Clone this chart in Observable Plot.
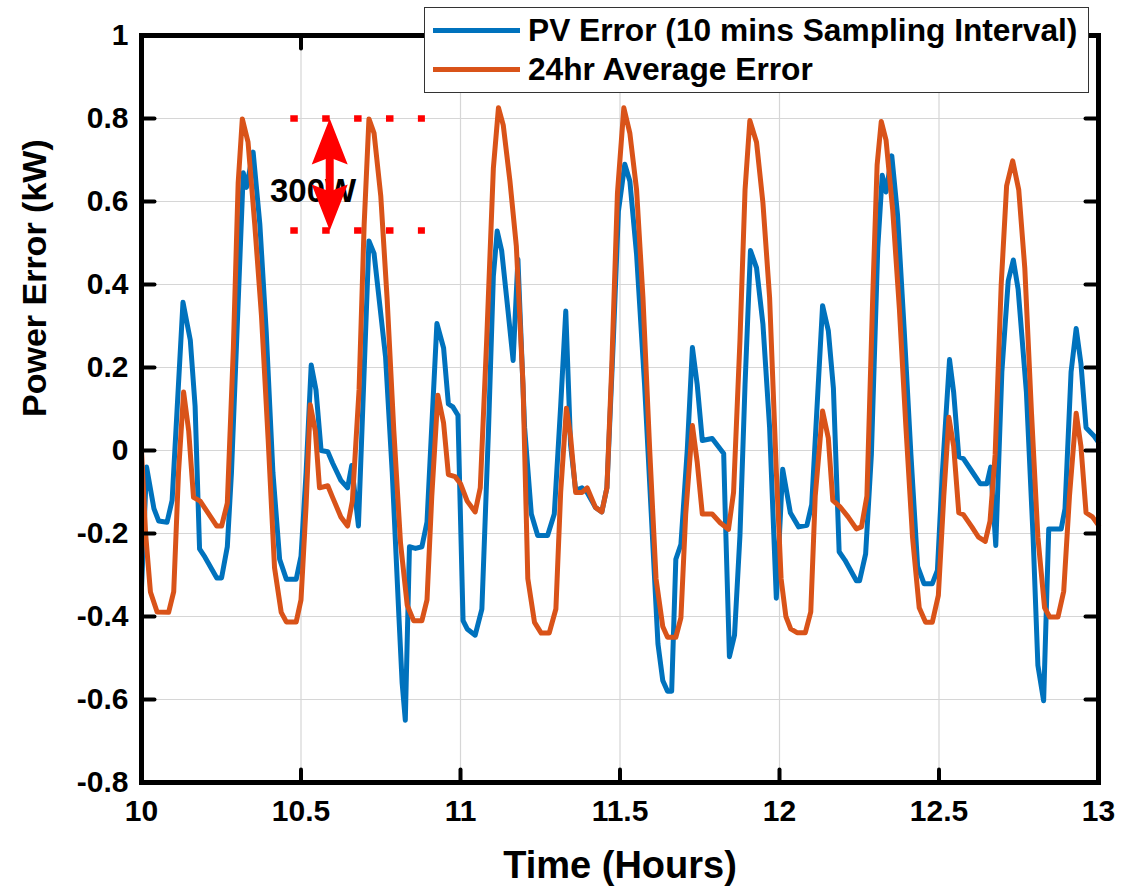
<!DOCTYPE html>
<html><head><meta charset="utf-8">
<script src="https://cdn.jsdelivr.net/npm/d3@7"></script>
<script src="https://cdn.jsdelivr.net/npm/@observablehq/plot@0.6"></script>
<style>
html,body{margin:0;padding:0;background:#fff;overflow:hidden;}
#wrap{position:relative;width:1142px;height:894px;}
#legend{position:absolute;left:424px;top:7px;width:665px;height:86px;box-sizing:border-box;border:1.5px solid #333;background:#fff;font-family:"Liberation Sans",Arial,sans-serif;font-weight:bold;}
.row{position:absolute;left:0;display:flex;align-items:center;height:40px;}
.sw{margin-left:8px;width:87px;height:5px;}
.lbl{margin-left:8px;font-size:31.7px;line-height:1;color:#000;white-space:nowrap;}
</style></head><body><div id="wrap"></div>
<script>
const pvTime = [10.000,10.016,10.039,10.054,10.080,10.096,10.130,10.153,10.168,10.182,10.199,10.236,10.251,10.269,10.282,10.319,10.329,10.350,10.371,10.391,10.412,10.433,10.454,10.485,10.500,10.516,10.532,10.547,10.563,10.584,10.599,10.625,10.646,10.659,10.680,10.713,10.729,10.765,10.786,10.807,10.817,10.827,10.840,10.859,10.879,10.895,10.926,10.947,10.962,10.976,10.992,11.008,11.021,11.046,11.067,11.088,11.103,11.115,11.129,11.149,11.165,11.180,11.201,11.222,11.242,11.273,11.294,11.314,11.330,11.345,11.361,11.381,11.397,11.423,11.443,11.459,11.479,11.495,11.515,11.531,11.552,11.577,11.598,11.619,11.634,11.649,11.662,11.675,11.691,11.711,11.727,11.742,11.758,11.789,11.825,11.830,11.843,11.859,11.876,11.892,11.909,11.928,11.948,11.969,11.990,12.010,12.034,12.060,12.086,12.101,12.135,12.153,12.169,12.187,12.205,12.241,12.251,12.270,12.288,12.308,12.322,12.334,12.352,12.370,12.391,12.412,12.433,12.453,12.479,12.495,12.510,12.533,12.546,12.562,12.577,12.603,12.629,12.650,12.662,12.678,12.697,12.717,12.733,12.748,12.774,12.795,12.810,12.828,12.844,12.862,12.883,12.895,12.914,12.930,12.945,12.961,12.986,13.000];
const pvError = [-0.33,-0.04,-0.14,-0.17,-0.173,-0.12,0.357,0.266,0.107,-0.237,-0.257,-0.307,-0.307,-0.232,-0.053,0.669,0.634,0.719,0.545,0.286,-0.053,-0.262,-0.31,-0.31,-0.255,-0.053,0.206,0.146,0.0,-0.003,-0.03,-0.072,-0.09,-0.036,-0.182,0.505,0.475,0.226,-0.053,-0.401,-0.56,-0.65,-0.232,-0.236,-0.232,-0.172,0.306,0.247,0.112,0.105,0.085,-0.41,-0.43,-0.445,-0.382,0.055,0.42,0.529,0.482,0.336,0.217,0.461,0.055,-0.153,-0.205,-0.205,-0.153,0.107,0.336,0.014,-0.096,-0.09,-0.101,-0.137,-0.148,-0.09,0.264,0.576,0.69,0.649,0.472,0.159,-0.153,-0.466,-0.554,-0.58,-0.58,-0.262,-0.226,0.003,0.248,0.159,0.024,0.029,-0.007,-0.153,-0.497,-0.445,-0.205,0.159,0.482,0.44,0.305,0.055,-0.356,-0.045,-0.15,-0.184,-0.18,-0.13,0.349,0.289,0.15,-0.244,-0.264,-0.314,-0.314,-0.249,-0.01,0.488,0.663,0.623,0.71,0.568,0.289,-0.01,-0.279,-0.321,-0.321,-0.289,-0.06,0.219,0.14,-0.015,-0.02,-0.05,-0.08,-0.08,-0.04,-0.229,0.189,0.409,0.459,0.389,0.14,-0.209,-0.518,-0.603,-0.189,-0.189,-0.189,-0.14,0.189,0.294,0.209,0.055,0.035,0.02];
const avgTime = [10.000,10.013,10.028,10.049,10.085,10.101,10.116,10.132,10.148,10.163,10.184,10.236,10.251,10.269,10.288,10.303,10.316,10.334,10.355,10.376,10.397,10.417,10.438,10.454,10.485,10.500,10.516,10.529,10.545,10.558,10.584,10.599,10.625,10.646,10.661,10.682,10.698,10.713,10.729,10.750,10.770,10.791,10.812,10.833,10.853,10.879,10.895,10.910,10.929,10.947,10.962,10.983,11.000,11.021,11.046,11.062,11.082,11.103,11.119,11.134,11.155,11.175,11.196,11.211,11.232,11.253,11.278,11.299,11.314,11.332,11.345,11.361,11.381,11.397,11.423,11.443,11.459,11.474,11.492,11.512,11.531,11.552,11.572,11.593,11.613,11.634,11.649,11.675,11.691,11.706,11.727,11.742,11.758,11.789,11.814,11.840,11.856,11.876,11.892,11.907,11.928,11.948,11.969,11.990,12.005,12.020,12.035,12.055,12.081,12.098,12.112,12.135,12.153,12.167,12.189,12.215,12.241,12.257,12.274,12.293,12.306,12.319,12.334,12.355,12.376,12.396,12.417,12.438,12.458,12.479,12.498,12.515,12.531,12.546,12.562,12.577,12.603,12.624,12.645,12.660,12.676,12.695,12.712,12.731,12.750,12.769,12.790,12.810,12.831,12.847,12.873,12.891,12.909,12.930,12.945,12.961,12.981,13.000];
const avgError = [0.0,-0.202,-0.341,-0.389,-0.39,-0.34,-0.053,0.141,0.047,-0.113,-0.122,-0.182,-0.182,-0.127,0.247,0.644,0.799,0.743,0.545,0.326,0.027,-0.282,-0.39,-0.413,-0.413,-0.36,-0.132,0.11,0.047,-0.09,-0.085,-0.113,-0.16,-0.182,-0.122,0.146,0.545,0.799,0.765,0.614,0.365,0.047,-0.223,-0.373,-0.41,-0.41,-0.36,-0.11,0.133,0.066,-0.058,-0.063,-0.08,-0.122,-0.148,-0.09,0.264,0.68,0.826,0.784,0.649,0.493,0.159,-0.309,-0.414,-0.44,-0.44,-0.382,-0.101,0.102,0.034,-0.101,-0.101,-0.09,-0.137,-0.148,-0.09,0.2,0.62,0.826,0.764,0.628,0.368,0.003,-0.309,-0.424,-0.45,-0.45,-0.403,-0.153,0.06,-0.028,-0.153,-0.153,-0.174,-0.19,-0.101,0.264,0.628,0.795,0.743,0.597,0.368,-0.049,-0.309,-0.40,-0.43,-0.439,-0.439,-0.389,-0.11,0.095,0.03,-0.12,-0.135,-0.16,-0.189,-0.184,-0.11,0.389,0.688,0.793,0.748,0.578,0.339,0.06,-0.209,-0.379,-0.414,-0.414,-0.349,-0.11,0.08,0.01,-0.15,-0.155,-0.184,-0.209,-0.219,-0.17,-0.01,0.4,0.638,0.698,0.628,0.439,0.09,-0.209,-0.379,-0.401,-0.401,-0.339,-0.11,0.09,0.01,-0.15,-0.16,-0.18];
const seriesNames = ["PV Error (10 mins Sampling Interval)", "24hr Average Error"];
const seriesColors = ["#0072BD", "#D95319"];
const xTicks = [10, 10.5, 11, 11.5, 12, 12.5, 13];
const xTickLabels = ["10", "10.5", "11", "11.5", "12", "12.5", "13"];
const yTicks = [-0.8, -0.6, -0.4, -0.2, 0, 0.2, 0.4, 0.6, 0.8, 1];
const yTickLabels = ["-0.8", "-0.6", "-0.4", "-0.2", "0", "0.2", "0.4", "0.6", "0.8", "1"];
const xLabel = "Time (Hours)";
const yLabel = "Power Error (kW)";
// red annotation (data units)
const bandLevels = [0.8, 0.53];
const bandStart = 10.468, bandEnd = 10.89;
const arrowX = 10.59;
const shaftRange = [0.62, 0.71];
const annotText = "300W", annotX = 10.538, annotY = 0.625;

const pv = pvTime.map((t, i) => ({t, v: pvError[i]}));
const avg = avgTime.map((t, i) => ({t, v: avgError[i]}));
const heads = [{x: arrowX, y: bandLevels[0], rot: 0}, {x: arrowX, y: bandLevels[1], rot: 180}];

const tickShape = {draw(ctx, l) { ctx.moveTo(0, 0); ctx.lineTo(0, -l); }};
const headShape = {draw(ctx, l, r) { ctx.moveTo(0, -l); ctx.lineTo(r, 0); ctx.lineTo(0, -l * 0.15); ctx.lineTo(-r, 0); ctx.closePath(); }};
const tickOpts = {length: 13, anchor: "start", shape: tickShape, stroke: "black", strokeWidth: 4};

const chart = Plot.plot({
  width: 1142, height: 894,
  marginLeft: 141, marginRight: 44, marginTop: 35, marginBottom: 112,
  style: {fontFamily: "'Liberation Sans', Arial, sans-serif", background: "#fff", color: "#000"},
  x: {domain: [10, 13]},
  y: {domain: [-0.8, 1]},
  marks: [
    Plot.gridX(xTicks, {stroke: "#d6d6d6", strokeOpacity: 1, strokeWidth: 1.2}),
    Plot.gridY(yTicks, {stroke: "#d6d6d6", strokeOpacity: 1, strokeWidth: 1.2}),
    Plot.axisX(xTicks, {tickSize: 0, tickPadding: 17, tickFormat: d => xTickLabels[xTicks.indexOf(d)], fontSize: 30, fontWeight: "bold", label: null}),
    Plot.axisY(yTicks, {tickSize: 0, tickPadding: 13, tickFormat: d => yTickLabels[yTicks.indexOf(d)], fontSize: 30, fontWeight: "bold", label: null}),
    Plot.line(pv, {x: "t", y: "v", stroke: seriesColors[0], strokeWidth: 5, strokeLinejoin: "round"}),
    Plot.line(avg, {x: "t", y: "v", stroke: seriesColors[1], strokeWidth: 5, strokeLinejoin: "round"}),
    Plot.ruleY(bandLevels, {x1: () => bandStart, x2: () => bandEnd, stroke: "red", strokeWidth: 6.5, strokeDasharray: "7.5 24.4"}),
    Plot.text([annotText], {x: () => annotX, y: () => annotY, text: d => d, fontSize: 33, fontWeight: "bold", fill: "black", lineAnchor: "middle"}),
    Plot.ruleX([arrowX], {x: d => d, y1: () => shaftRange[0], y2: () => shaftRange[1], stroke: "red", strokeWidth: 8}),
    Plot.vector(heads, {x: "x", y: "y", rotate: "rot", length: 46, r: 18, anchor: "end", shape: headShape, fill: "red", stroke: "none"}),
    Plot.vector(xTicks, {x: d => d, frameAnchor: "bottom", rotate: 0, ...tickOpts}),
    Plot.vector(xTicks, {x: d => d, frameAnchor: "top", rotate: 180, ...tickOpts}),
    Plot.vector(yTicks, {y: d => d, frameAnchor: "left", rotate: 90, ...tickOpts}),
    Plot.vector(yTicks, {y: d => d, frameAnchor: "right", rotate: -90, ...tickOpts}),
    Plot.frame({stroke: "black", strokeWidth: 5}),
    Plot.text([xLabel], {frameAnchor: "bottom", dy: 83, text: d => d, fontSize: 38, fontWeight: "bold", lineAnchor: "middle"}),
    Plot.text([yLabel], {frameAnchor: "left", rotate: -90, dx: -106, dy: 8, text: d => d, fontSize: 34, fontWeight: "bold", lineAnchor: "middle"})
  ]
});
const wrap = document.getElementById("wrap");
wrap.appendChild(chart);
const legend = document.createElement("div");
legend.id = "legend";
seriesNames.forEach((name, i) => {
  const row = document.createElement("div");
  row.className = "row";
  row.style.top = (i === 0 ? 2.5 : 41.5) + "px";
  const sw = document.createElement("div");
  sw.className = "sw";
  sw.style.background = seriesColors[i];
  const lb = document.createElement("div");
  lb.className = "lbl";
  lb.textContent = name;
  row.appendChild(sw); row.appendChild(lb);
  legend.appendChild(row);
});
wrap.appendChild(legend);
</script></body></html>
